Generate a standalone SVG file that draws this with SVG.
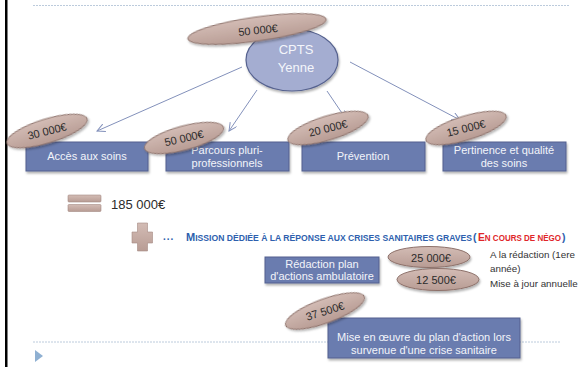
<svg xmlns="http://www.w3.org/2000/svg" width="581" height="367" viewBox="0 0 581 367">
<style>
text{font-family:"Liberation Sans",Arial,sans-serif}
.box{fill:#6b7baf;stroke:#52608f;stroke-width:1}
.bt{fill:#f2f4fa;font-size:11px;text-anchor:middle}
.tt{fill:#2b2b2b;font-size:11px;text-anchor:middle}
.conn{stroke:#8391bb;stroke-width:1;fill:none}
.dash{stroke:#bccbdc;stroke-width:1;stroke-dasharray:2 1}
.side{fill:#333;font-size:9.8px}
.mb{fill:#2e5fae;font-weight:bold}
</style>
<defs>
<marker id="arr" markerWidth="10" markerHeight="10" refX="8" refY="4" orient="auto" markerUnits="userSpaceOnUse">
<path d="M0,0 L8,4 L0,8" fill="none" stroke="#8391bb" stroke-width="1"/>
</marker>
<linearGradient id="tg" x1="0" y1="0" x2="0" y2="1">
<stop offset="0" stop-color="#d3bcb5"/><stop offset="1" stop-color="#b89c94"/>
</linearGradient>
<filter id="sh" x="-20%" y="-20%" width="140%" height="160%">
<feDropShadow dx="1" dy="2" stdDeviation="1.2" flood-color="#000" flood-opacity="0.3"/>
</filter>
</defs>
<rect width="581" height="367" fill="#fff"/>
<rect x="5" y="0" width="2.5" height="367" fill="#000"/>
<line class="dash" x1="33" y1="5.5" x2="570" y2="5.5"/>
<line class="dash" x1="33" y1="342" x2="560" y2="342"/>
<path d="M35,350 L43,356 L35,362 Z" fill="#8fb0d2"/>

<g id="connectors">
<line class="conn" x1="242" y1="67" x2="97" y2="131" marker-end="url(#arr)"/>
<line class="conn" x1="257" y1="90" x2="229" y2="131" marker-end="url(#arr)"/>
<line class="conn" x1="327" y1="91" x2="346" y2="119" marker-end="url(#arr)"/>
<line class="conn" x1="350" y1="62" x2="460" y2="120" marker-end="url(#arr)"/>
</g>

<g id="cpts">
<ellipse cx="292" cy="60" rx="46" ry="31" fill="#a4add1" stroke="#56628f" stroke-width="1.2" filter="url(#sh)"/>
<text x="296" y="54" fill="#f4f6fb" font-size="13" text-anchor="middle">CPTS</text>
<text x="296" y="72" fill="#f4f6fb" font-size="13" text-anchor="middle">Yenne</text>
</g>
<g id="budget-cpts">
<ellipse cx="257" cy="29" rx="70" ry="12" transform="rotate(-8 257 29)" fill="url(#tg)" stroke="#8d716a" filter="url(#sh)"/>
<text x="258" y="34" class="tt" font-size="13" transform="rotate(-6 258 30)">50 000€</text>
</g>

<g id="acces">
<rect class="box" x="26" y="142" width="122" height="29" filter="url(#sh)"/>
<text class="bt" x="87" y="160">Accès aux soins</text>
<ellipse cx="47" cy="131" rx="42" ry="12" transform="rotate(-17 47 131)" fill="url(#tg)" stroke="#8d716a" filter="url(#sh)"/>
<text class="tt" x="47" y="135" transform="rotate(-14 47 131)">30 000€</text>
</g>
<g id="parcours">
<rect class="box" x="166" y="142" width="123" height="29" filter="url(#sh)"/>
<text class="bt" x="227" y="154">Parcours pluri-</text>
<text class="bt" x="227" y="167">professionnels</text>
<ellipse cx="184" cy="138" rx="41" ry="12" transform="rotate(-15 184 138)" fill="url(#tg)" stroke="#8d716a" filter="url(#sh)"/>
<text class="tt" x="184" y="142" transform="rotate(-13 184 138)">50 000€</text>
</g>
<g id="prevention">
<rect class="box" x="302" y="142" width="123" height="29" filter="url(#sh)"/>
<text class="bt" x="363" y="160">Prévention</text>
<ellipse cx="328" cy="128" rx="42" ry="12" transform="rotate(-17 328 128)" fill="url(#tg)" stroke="#8d716a" filter="url(#sh)"/>
<text class="tt" x="328" y="132" transform="rotate(-14 328 128)">20 000€</text>
</g>
<g id="pertinence">
<rect class="box" x="443" y="142" width="123" height="29" filter="url(#sh)"/>
<text class="bt" x="504" y="154">Pertinence et qualité</text>
<text class="bt" x="504" y="167">des soins</text>
<ellipse cx="466" cy="128" rx="42" ry="12" transform="rotate(-17 466 128)" fill="url(#tg)" stroke="#8d716a" filter="url(#sh)"/>
<text class="tt" x="466" y="132" transform="rotate(-14 466 128)">15 000€</text>
</g>

<g id="total">
<rect x="68" y="195" width="33" height="7" rx="1" fill="url(#tg)" stroke="#a48a83" stroke-width="0.6"/>
<rect x="68" y="204.5" width="33" height="7" rx="1" fill="url(#tg)" stroke="#a48a83" stroke-width="0.6"/>
<text x="111" y="209" fill="#2b2b2b" font-size="13">185 000€</text>
</g>

<g id="mission">
<path d="M137.5,223 H147.5 V232 H152.5 V243 H147.5 V251 H137.5 V243 H132 V232 H137.5 Z" fill="url(#tg)" stroke="#a48a83" stroke-width="0.6"/>
<text x="163" y="240" class="mb" font-size="10" letter-spacing="1">...</text>
<text x="186" y="241" class="mb" font-size="8.2" textLength="286" lengthAdjust="spacingAndGlyphs"><tspan font-size="10.5">M</tspan>ISSION DÉDIÉE À LA RÉPONSE AUX CRISES SANITAIRES GRAVES</text>
<text x="473" y="241" class="mb" font-size="10.5">(</text>
<text x="478" y="241" fill="#e0262a" font-weight="bold" font-size="8.2" textLength="83" lengthAdjust="spacingAndGlyphs"><tspan font-size="10.5">E</tspan>N COURS DE NÉGO</text>
<text x="562" y="241" class="mb" font-size="10.5">)</text>
</g>

<g id="redaction">
<rect class="box" x="265" y="257" width="114" height="26" filter="url(#sh)"/>
<text class="bt" x="322" y="268">Rédaction plan</text>
<text class="bt" x="322" y="280">d'actions ambulatoire</text>
</g>
<g id="cost-25000">
<ellipse cx="429" cy="257" rx="41" ry="10.5" fill="url(#tg)" stroke="#8d716a" filter="url(#sh)"/>
<text class="tt" x="431" y="261.5" font-size="12">25 000€</text>
<text class="side" x="490" y="258">A la rédaction (1ere</text>
<text class="side" x="490" y="272">année)</text>
</g>
<g id="cost-12500">
<ellipse cx="438" cy="279.5" rx="41" ry="11" fill="url(#tg)" stroke="#8d716a" filter="url(#sh)"/>
<text class="tt" x="436" y="284" font-size="12">12 500€</text>
<text class="side" x="490" y="287">Mise à jour annuelle</text>
</g>

<g id="mise-en-oeuvre">
<rect class="box" x="328" y="318" width="192" height="40" filter="url(#sh)"/>
<text class="bt" x="424" y="341">Mise en œuvre du plan d'action lors</text>
<text class="bt" x="424" y="354">survenue d'une crise sanitaire</text>
<ellipse cx="325" cy="311" rx="42" ry="12" transform="rotate(-20 325 311)" fill="url(#tg)" stroke="#8d716a" filter="url(#sh)"/>
<text class="tt" x="325" y="315" transform="rotate(-17 325 311)">37 500€</text>
</g>
</svg>
